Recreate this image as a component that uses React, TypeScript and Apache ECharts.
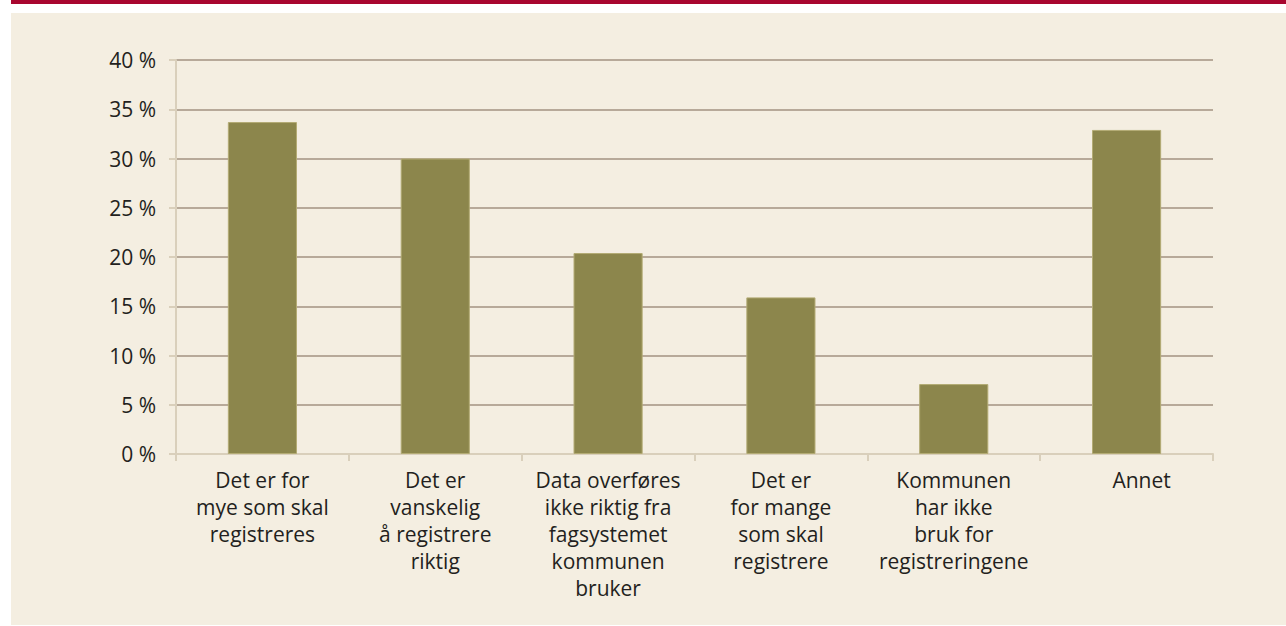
import React, { useEffect, useRef } from "react";
import * as echarts from "echarts";

const categories = [
  "Det er for\nmye som skal\nregistreres",
  "Det er\nvanskelig\nå registrere\nriktig",
  "Data overføres\nikke riktig fra\nfagsystemet\nkommunen\nbruker",
  "Det er\nfor mange\nsom skal\nregistrere",
  "Kommunen\nhar ikke\nbruk for\nregistreringene",
  "Annet",
];
const values = [33.7, 30.0, 20.4, 15.9, 7.1, 32.9];
const yTicks = { min: 0, max: 40, interval: 5 };

export default function App() {
  const ref = useRef<HTMLDivElement>(null);
  useEffect(() => {
    if (!ref.current) return;
    const chart = echarts.init(ref.current, undefined, { renderer: "svg" });
    const font = "'Open Sans', 'Noto Sans', sans-serif";
    const xData = categories.map((c, i) =>
      i === categories.length - 1
        ? { value: c, textStyle: { padding: [0, 0, 0, 30] } }
        : c
    );
    chart.setOption({
      animation: false,
      backgroundColor: "transparent",
      grid: { left: 176, right: 73, top: 60, bottom: 172, containLabel: false },
      xAxis: {
        type: "category",
        data: xData,
        axisLine: { show: true, lineStyle: { color: "#d9cfbb", width: 2 } },
        axisTick: { show: true, length: 7, lineStyle: { color: "#d9cfbb", width: 2 } },
        axisLabel: {
          interval: 0,
          margin: 12,
          color: "#231f20",
          fontSize: 21,
          lineHeight: 27,
          fontFamily: font,
          align: "center",
        },
        splitLine: { show: false },
      },
      yAxis: {
        type: "value",
        min: yTicks.min,
        max: yTicks.max,
        interval: yTicks.interval,
        axisLine: { show: true, lineStyle: { color: "#d9cfbb", width: 2 } },
        axisTick: { show: true, length: 7, lineStyle: { color: "#d9cfbb", width: 2 } },
        axisLabel: {
          margin: 20,
          color: "#231f20",
          fontSize: 21,
          fontFamily: font,
          formatter: (v: number) => `${v} %`,
        },
        splitLine: { show: true, lineStyle: { color: "#a39281", width: 1.5 } },
      },
      series: [
        {
          type: "bar",
          data: values,
          barWidth: "40%",
          itemStyle: { color: "#8c864c", borderColor: "#b3ab74", borderWidth: 1 },
        },
      ],
    });
    return () => chart.dispose();
  }, []);

  return (
    <div style={{ position: "absolute", left: 0, top: 0, width: 1286, height: 626, background: "#ffffff", overflow: "hidden" }}>
      <div style={{ position: "absolute", left: 11, top: 0, width: 1275, height: 4, background: "#a8062f" }} />
      <div style={{ position: "absolute", left: 11, top: 13, width: 1275, height: 612, background: "#f4eee1" }} />
      <div ref={ref} style={{ position: "absolute", left: 0, top: 0, width: 1286, height: 626 }} />
    </div>
  );
}
